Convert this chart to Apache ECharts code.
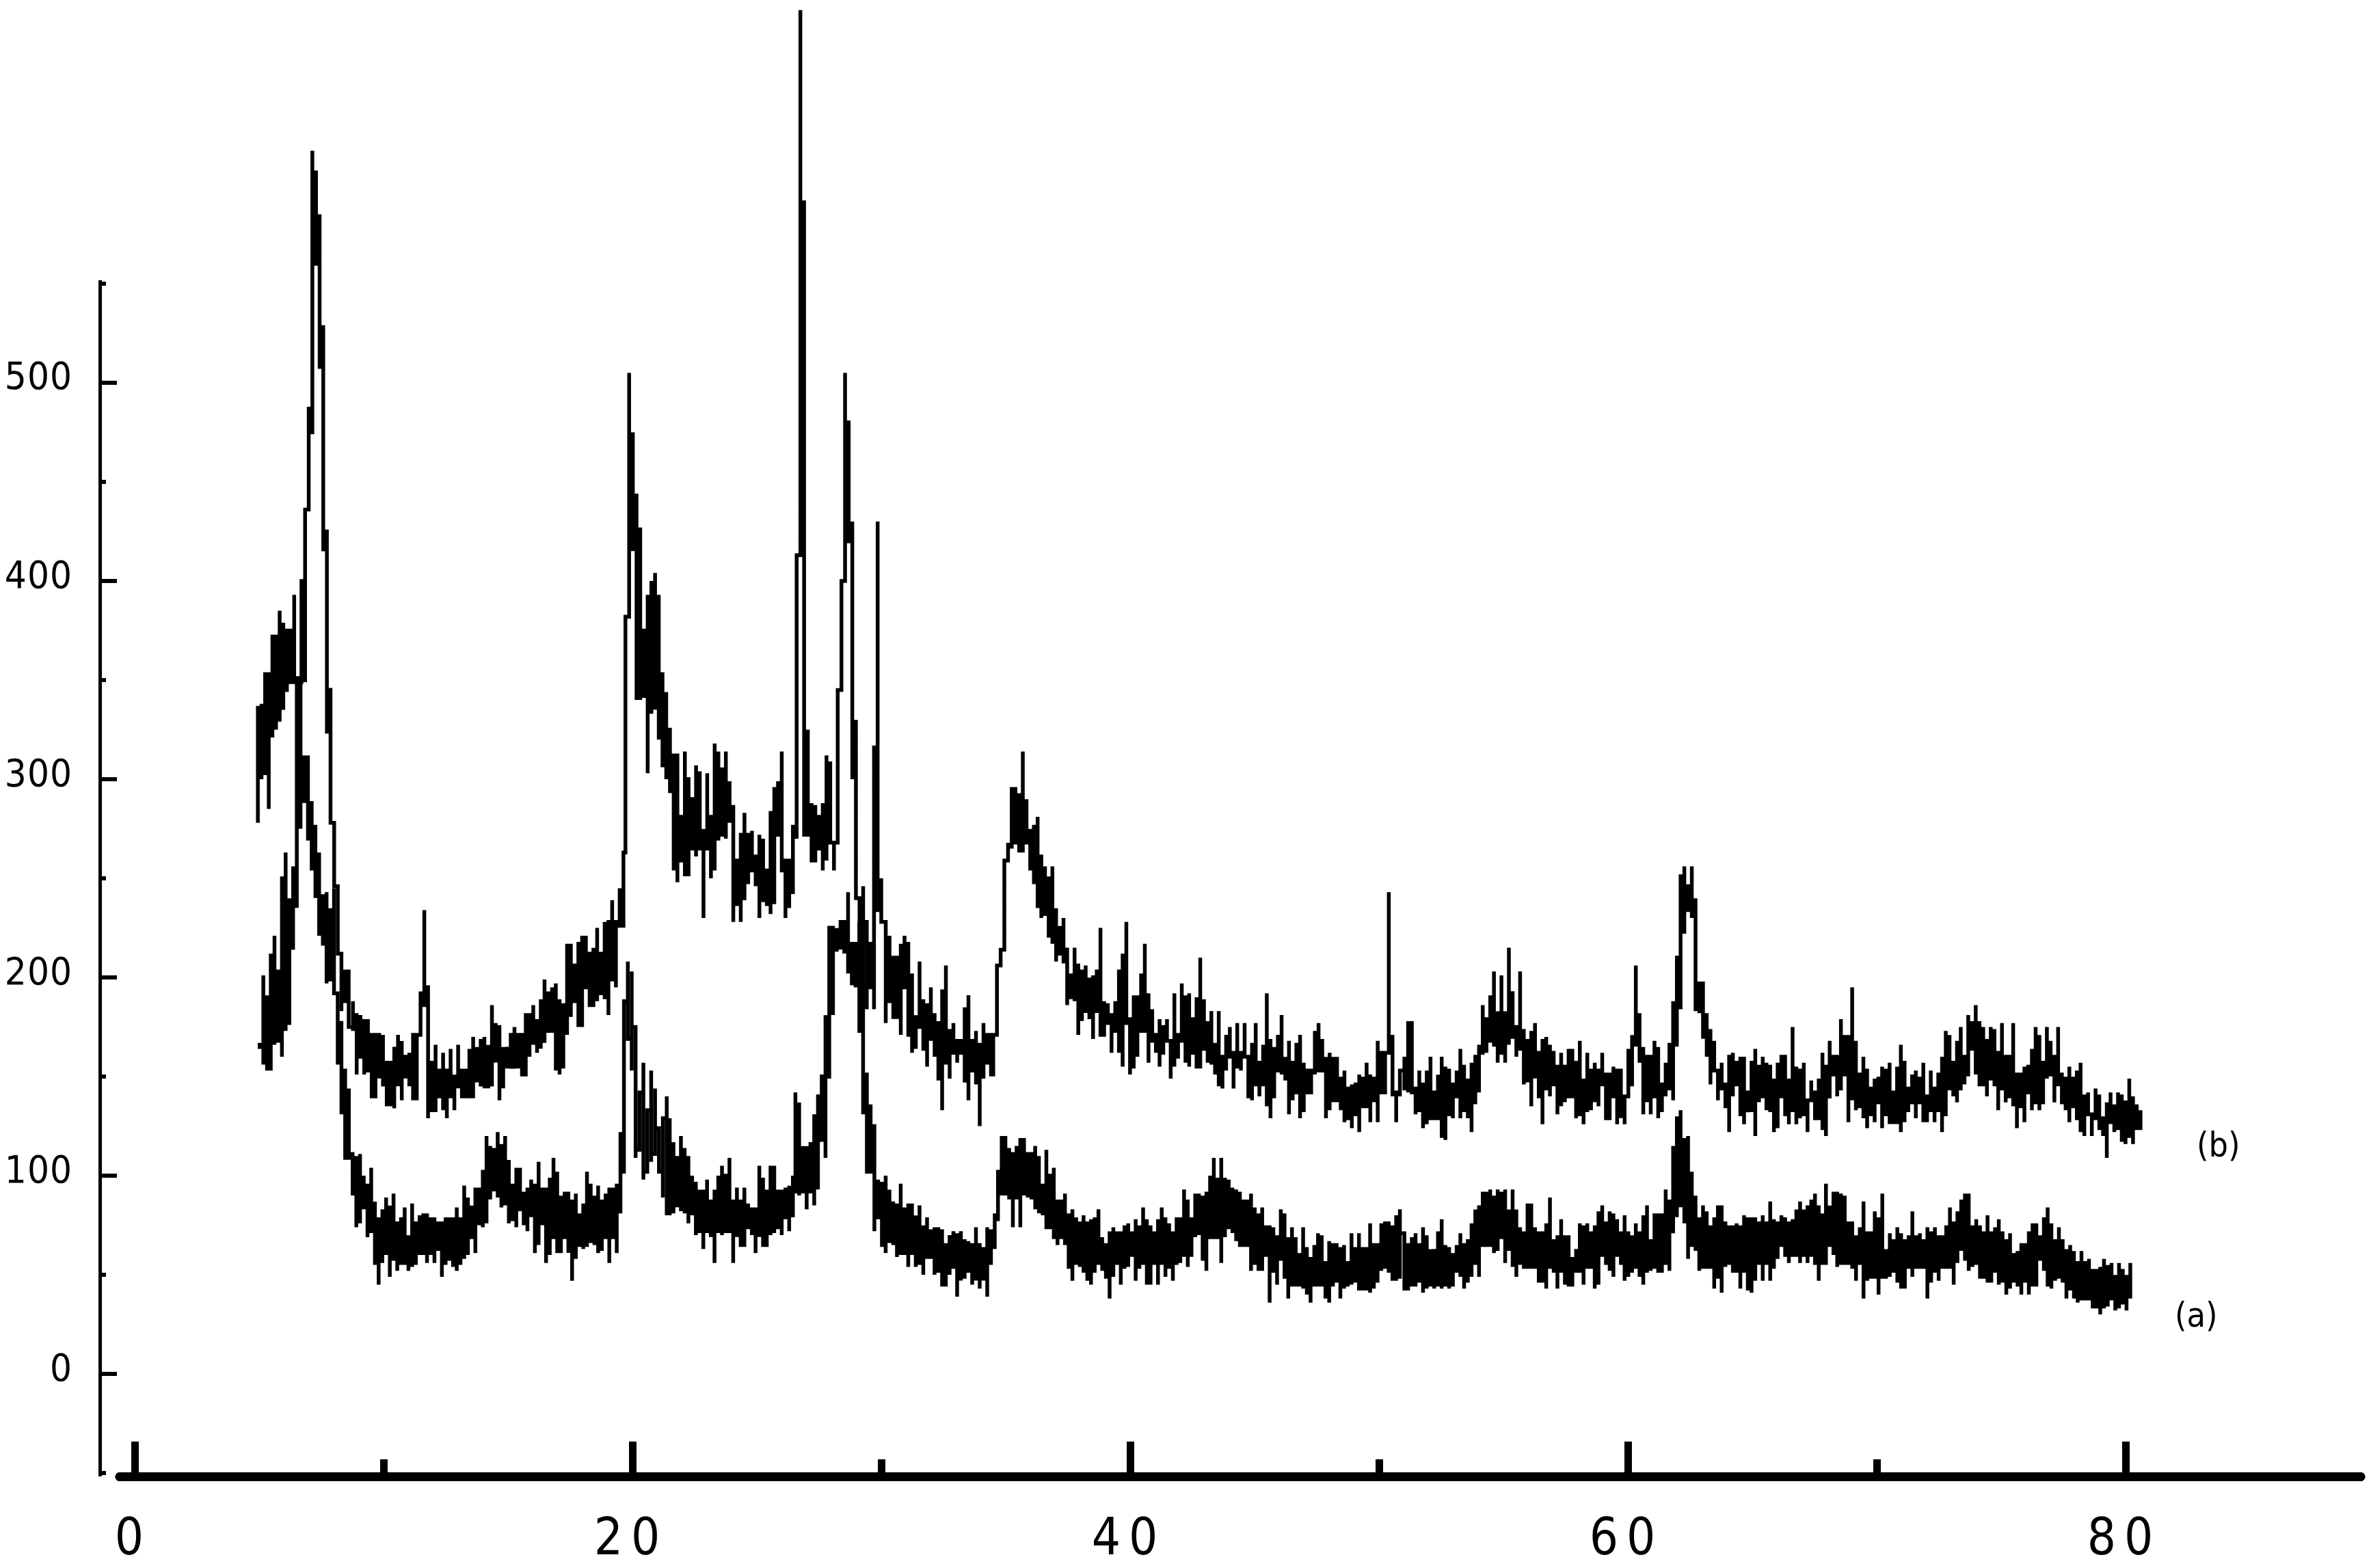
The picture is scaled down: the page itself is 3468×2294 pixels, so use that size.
<!DOCTYPE html>
<html><head><meta charset="utf-8">
<style>html,body{margin:0;padding:0;background:#fff}#c{width:3468px;height:2294px}</style>
<script src="https://cdn.jsdelivr.net/npm/echarts@6/dist/echarts.min.js"></script></head>
<body><div id="c"></div>
<script>
// Scan values as [high,low] per plotted column, with start and end angle for each run.
const xMajorTicks=[0,20,40,60,80];
const xMinorTicks=[10,30,50,70];
const yMajorTicks=[0,100,200,300,400,500];
const yMinorTicks=[-50,50,150,250,350,450,550];
const seriesNames=['(a)','(b)'];

const bSpans=[[4.95,8.6],[8.77,19.64],[19.72,21.06],[21.21,26.45],[26.6,28.25],[28.4,30.0],[30.18,34.41],[34.5,50.84],[51.02,67.82],[67.96,80.6]];
const b1=[336,278,338,300,353,303,353,285,372,322,372,325,385,330,378,335,375,345,375,348,393,349,351,335,400,349,436,349,487,436,617,474,607,560,584,508,529,415,425,324,346,278,278,246,246,212,212,183,203,188,203,175];
const b2=[188,173,181,151,181,160,178,151,179,153,171,140,171,140,171,150,171,145,157,136,157,136,165,134,171,146,167,138,160,150,162,146,171,138,171,138,192,171,234,186,196,129,157,133,166,133,153,140,162,133,153,129,164,140,150,133,166,145,153,140,153,140,164,140,170,140,164,148,168,145,170,145,165,145,186,145,177,158,175,138,164,145,165,155,171,154,175,154,171,155,171,151,181,151,181,160,186,167,178,162,188,165,199,167,192,173,195,173,197,153,188,151,186,155,217,171,217,181,206,188,217,175,221,175,221,195,212,186,214,186,225,188,212,192,228,190,228,181,239,199,228,195,245,226,263,226];
const b3=[382,263,505,382,474,416,444,340,426,340,375,342,393,303,399,334,404,336,393,320];
const b4=[353,307,344,300,325,294,312,254,312,248,281,259,314,252,301,252,290,265,307,261,303,265,274,230,303,265,281,250,318,254,314,270,305,272,314,270,298,279,287,228,259,237,272,228,283,239,272,248,274,254,261,246,272,230,270,239,254,237,283,232,296,237,298,272,314,254,259,230,259,235,276,243];
const b5=[413,270,688,413,591,272,325,272,287,259,287,259,281,265,287,254,312,259,309,268,268,254,345,268];
const b6=[400,345,505,400,480,420,430,300,329,240,237,195,246,228,228,184,217,195,316,184,430,234,250,228];
const b7=[228,177,221,188,210,180,210,180,217,171,221,195,217,171,202,162,180,164,208,175,188,164,186,155,195,169,182,160,177,149,193,133,206,157,173,149,177,162,168,157,168,162,184,147,191,138,168,153,173,147,166,125,177,149,171,157,171,151];
const b8=[171,151,192,188,214,206,245,237,267,259,296,265,296,268,292,264,314,264,289,268,274,254,277,248,281,235,261,230,256,232,250,221,256,217,234,208,225,212,230,208,215,186,201,190,215,188,206,171,203,179,206,183,199,179,201,169,203,183,225,171,188,171,186,177,181,162,188,173,203,162,212,155,228,177,179,151,190,155,190,160,201,173,217,173,192,157,183,168,171,162,179,155,175,162,179,168,168,149,192,155,171,160,197,168,190,157,192,155,179,162,190,155,210,155,188,164,177,157,183,157,166,151,183,146,160,144,171,153,175,160,162,144,177,155,162,153,177,160,160,140,166,138,177,146,157,140,166,146,192,135,168,129,164,140,171,153,181,151,159,149,168,131,157,138,166,142,171,129,157,133,153,142,153,142,173,151,177,153,168,153,159,129,162,133,159,138,159,138,149,133,153,127,144,129,146,124,146,131,151,122,149,135,157,135,151,127,149,138,168,127,162,142,162,142,243,162,171,140,142,127,153,141];
const b9=[160,144,177,142,177,142,144,131,153,133,146,124,153,126,160,129,142,129,150,129,160,120,155,118,153,131,146,129,153,140,164,129,155,133,148,129,157,122,160,137,166,142,186,162,179,162,190,168,203,166,182,157,201,162,182,157,215,166,193,170,175,160,203,164,173,146,168,148,173,135,177,150,162,140,168,126,170,144,166,140,162,146,155,131,162,135,155,138,164,140,164,140,157,129,168,131,148,126,162,133,153,133,157,138,153,135,162,146,151,129,151,129,155,140,153,126,153,130,140,126,164,140,170,146,206,166,182,157,164,131,160,138,160,131,168,140,164,129,146,133,157,140,166,144,188,138,210,166,252,184,256,223,246,234,256,230,239,184,197,182,197,170,182,160,173,146,168,153,153,138,157,144,146,135,160,122,162,140,157,146,160,131,160,126,142,132,157,133,164,120,155,138,160,140,157,133,155,133,148,122,157,124,160,140,160,131,148,126,175,133,155,126,153,129,157,131,138,122,148,138,142,129,148,129,162,124];
const b10=[155,120,168,139,160,151,160,140,179,144,170,151,170,127,195,139,168,133,151,135,160,129,153,124,144,131,149,127,149,137,155,124,153,131,157,127,142,127,155,127,166,122,157,127,144,133,151,137,153,129,149,137,157,127,140,127,153,133,144,127,151,133,160,122,173,131,170,144,157,140,168,137,175,144,160,146,181,151,177,164,186,151,177,146,175,146,168,140,175,149,173,146,162,133,177,144,160,137,160,140,177,135,151,124,151,135,155,127,155,142,164,133,175,137,170,133,157,137,175,149,168,151,160,137,175,146,151,137,149,133,155,127,149,135,153,129,157,122,140,120,142,131,131,120,144,129,140,124,129,120,137,109,142,127,135,122,142,124,140,118,137,116,149,120,140,116,135,124,133,124];

const aSpans=[[5.02,19.52],[19.66,21.38],[21.5,26.45],[26.55,34.56],[34.69,50.84],[51.02,67.82],[67.96,80.19]];
const a1=[166,164,201,157,190,153,212,153,221,167,203,168,250,160,263,173,239,177,256,214,349,236,351,275,311,289,311,270,289,254,276,241,263,221,241,217,243,197,234,199,245,192,192,157,178,131,153,109,144,109,111,91,109,74,111,76,100,84,95,69,104,72,86,56,78,45,83,56,89,61,84,49,91,58,76,52,78,56,84,56,69,52,86,54,76,56,80,61,80,61,80,56,78,61,78,56,76,63,76,49,78,56,78,58,78,54,84,52,78,56,95,58,89,61,84,69,93,61,93,76,102,74,120,76,115,89,113,93,122,89,115,84,120,86,107,76,95,78,104,74,104,83,91,76,93,72,98,80,95,61,107,65,93,76,93,56,98,61,109,69,102,61,89,61,91,69,91,62,87,47,91,58,80,65,86,63,102,65,95,67,89,65,95,61,87,63,91,69,93,56,93,69,95,61,122,81];
const a2=[188,102,208,169,203,153,175,109,142,113,157,98,133,102,153,107,144,111,124,102,129,89,140,81];
const a3=[129,81,116,81,109,85,120,83,114,81,109,76,100,81,96,70,92,72,92,63,98,72,87,70,92,56,100,72,105,70,100,72,109,72,87,56,94,70,87,65,94,65,85,74,83,70,83,61,105,70,98,65,92,65,105,70,105,72,92,74,92,70,94,79,94,72,100,79];
const a4=[142,92,136,90,114,92,114,83,116,92,131,85,140,94,151,118,180,109,226,149,226,182,224,213,228,215,228,213,243,202,217,197,217,195,228,173,228,131,151,102,136,102,125,72,98,79,96,65,100,61,92,67,87,65,85,59,96,61,83,61,85,54,85,61,79,54,85,56,74,50,79,59,72,59,74,50,74,52,72,45,65,45,70,50,72,54,70,39,72,48,67,48,67,52,65,45,74,48,65,43,63,48,74,39,72,56,81,63];
const a5=[102,78,120,91,120,91,113,89,111,74,115,89,118,74,118,91,111,89,111,89,115,83,109,82,95,80,113,74,100,74,104,69,87,65,87,69,91,65,80,54,83,47,78,56,76,54,80,52,76,47,78,45,78,52,83,56,69,52,65,49,71,38,74,49,71,56,71,45,74,54,76,54,71,60,78,47,74,54,84,56,78,45,74,45,71,56,78,45,84,56,78,49,76,54,71,47,78,56,78,56,93,60,87,54,78,60,91,69,91,71,89,58,91,52,100,69,109,69,98,69,109,56,98,69,98,74,93,72,93,67,91,65,87,65,87,65,91,52,83,56,80,52,84,52,74,60,74,36,74,52,69,45,83,58,80,49,68,38,74,45,69,45,60,45,74,43,63,41,58,36,65,45,71,45,69,45,56,38,67,36,65,45,65,47,63,38,65,43,56,45,71,45,63,47,71,43,63,43,63,43,76,41,65,43,65,47,76,52,76,54,76,52,74,47,80,47,83,49];
const a6=[71,43,65,43,69,45,71,45,65,47,74,41,69,43,62,45,63,43,71,45,78,43,65,45,63,43,60,45,65,52,71,49,65,43,67,47,76,49,82,56,85,49,91,65,91,65,93,65,89,61,93,63,91,69,93,56,82,63,93,54,82,49,74,56,71,54,85,54,85,54,74,54,71,47,71,47,76,43,89,54,67,52,69,43,78,52,69,45,69,45,58,45,63,52,76,52,74,45,76,54,71,54,74,43,82,45,85,60,76,56,82,52,80,49,78,60,71,56,80,47,71,49,69,52,76,54,71,49,80,45,85,52,67,52,80,54,80,52,80,52,93,56,87,52,115,71,129,80,133,85,118,76,120,58,102,65,89,63,78,52,85,54,82,54,74,54,78,43,85,49,85,41,76,54,74,56,74,52,76,52,74,43,80,52,78,43,78,41,78,47,76,56,80,47,76,56,87,47,78,54,76,58,80,65,78,60,76,56,78,60,82,60,87,56,82,60,85,56,87,60,91,56,85,47,80,56];
const a7=[96,56,84,65,91,60,91,54,91,56,89,56,76,56,76,54,69,47,74,56,87,38,71,47,71,49,82,49,78,40,91,49,62,49,71,49,67,52,74,47,71,43,67,43,69,54,82,49,69,54,71,54,67,54,74,38,71,47,74,52,69,47,69,54,74,54,84,54,76,45,82,56,87,63,91,58,91,52,74,54,78,56,74,49,71,49,80,47,71,47,74,52,78,45,71,47,67,40,71,43,60,47,62,45,65,40,65,47,71,40,76,45,76,45,69,58,78,52,84,45,76,43,67,47,74,49,67,47,62,38,65,43,62,38,56,36,62,38,56,38,58,38,52,34,52,34,54,30,58,34,54,34,56,38,49,32,56,34,52,36,49,32,56,38];

// Walk up one column and down the next with square links, so the trace stays inside the columns.
function trace(spans,runs){
  const cols=[];
  runs.forEach((run,r)=>{
    const n=run.length/2,[s,e]=spans[r];
    for(let i=0;i<n;i++) cols.push([n>1?s+(e-s)*i/(n-1):s,run[2*i],run[2*i+1]]);
  });
  const pts=[];
  let up=true;
  cols.forEach((c,i)=>{
    const [x,hi,lo]=c;
    pts.push(up?[x,lo]:[x,hi],up?[x,hi]:[x,lo]);
    const next=cols[i+1];
    if(next){
      const [x2,hi2,lo2]=next;
      if(up){ pts.push(hi2>=hi?[x2,hi]:[x,hi2]); }
      else { pts.push(lo2<=lo?[x2,lo]:[x,lo2]); }
    }
    up=!up;
  });
  return pts;
}
const traceA=trace(aSpans,[a1,a2,a3,a4,a5,a6,a7]);
const traceB=trace(bSpans,[b1,b2,b3,b4,b5,b6,b7,b8,b9,b10]);

const FONT='"Liberation Sans Narrow","DejaVu Sans Condensed","Liberation Sans",sans-serif';
function spaced(v){
  const s=String(v);
  return s.split('').map((c,i)=>(i<s.length-1?'{d|':'{e|')+c+'}').join('');
}
function traceSeries(name,data){
  return {name,type:'line',data,xAxisIndex:0,yAxisIndex:0,showSymbol:false,symbol:'none',clip:false,
    silent:true,lineStyle:{color:'#000',width:5.5,join:'miter',miterLimit:2,cap:'butt'},itemStyle:{color:'#000'}};
}
const chart=echarts.init(document.getElementById('c'),null,{renderer:'canvas'});
const grid={left:175,right:15,top:410,height:1750,containLabel:false,outerBoundsMode:'none'};
const xBase={type:'value',min:-0.604,max:89.45,gridIndex:0,position:'bottom',splitLine:{show:false},
  axisLine:{show:true,onZero:false,lineStyle:{color:'#000',width:13}}};
const yBase={type:'value',min:-51.7,max:551.7,gridIndex:0,position:'left',offset:29,splitLine:{show:false},
  axisLine:{show:true,onZero:false,lineStyle:{color:'#000',width:5,cap:'butt'}}};
chart.setOption({
  animation:false,backgroundColor:'#fff',grid,
  xAxis:[
    Object.assign({},xBase,{axisTick:{show:true,inside:true,length:51,customValues:xMajorTicks,lineStyle:{color:'#000',width:11}},
      axisLabel:{show:true,customValues:xMajorTicks,margin:58,padding:[0,16,0,0],color:'#000',formatter:v=>spaced(v),
        fontFamily:FONT,fontSize:74,
        rich:{d:{fontFamily:FONT,fontSize:74,color:'#000',padding:[0,12,0,0]},e:{fontFamily:FONT,fontSize:74,color:'#000'}}}}),
    Object.assign({},xBase,{axisTick:{show:true,inside:true,length:25,customValues:xMinorTicks,lineStyle:{color:'#000',width:11}},
      axisLabel:{show:false}})
  ],
  yAxis:[
    Object.assign({},yBase,{axisTick:{show:true,inside:true,length:25,customValues:yMajorTicks,lineStyle:{color:'#000',width:6}},
      axisLabel:{show:true,customValues:yMajorTicks,margin:41,padding:[0,0,10,0],align:'right',color:'#000',formatter:v=>spaced(v),
        fontFamily:FONT,fontSize:56,
        rich:{d:{fontFamily:FONT,fontSize:56,color:'#000',padding:[0,1,0,0]},e:{fontFamily:FONT,fontSize:56,color:'#000'}}}}),
    Object.assign({},yBase,{axisTick:{show:true,inside:true,length:9,customValues:yMinorTicks,lineStyle:{color:'#000',width:6}},
      axisLabel:{show:false}})
  ],
  series:[traceSeries(seriesNames[0],traceA),traceSeries(seriesNames[1],traceB)],
  graphic:[
    {type:'text',left:3181,top:1903,silent:true,style:{text:seriesNames[0],fill:'#000',font:'50px '+FONT}},
    {type:'text',left:3213,top:1654,silent:true,style:{text:seriesNames[1],fill:'#000',font:'50px '+FONT}}
  ]
});
</script></body></html>
